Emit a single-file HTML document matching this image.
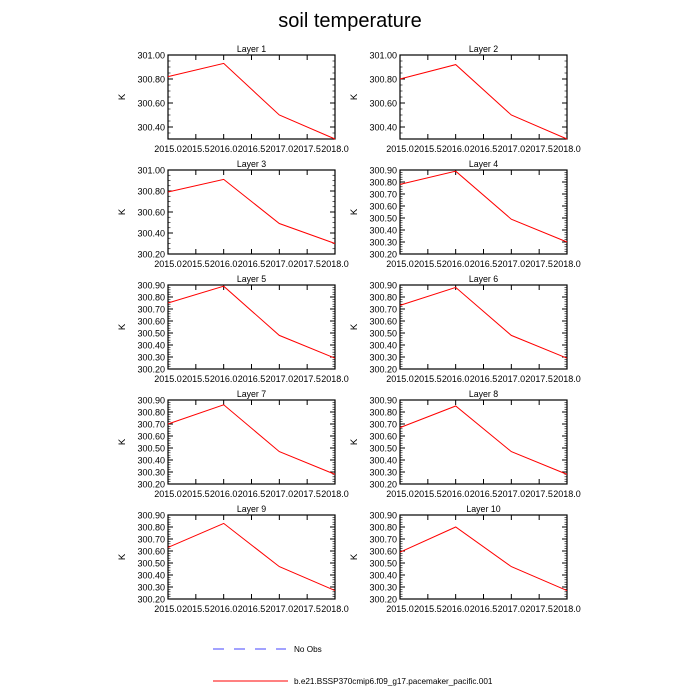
<!DOCTYPE html>
<html><head><meta charset="utf-8"><style>
body{margin:0;background:#fff;}
svg{display:block;font-family:"Liberation Sans",sans-serif;}
</style></head><body>
<svg id="chart" width="700" height="700" viewBox="0 0 700 700">
<text x="350" y="27" text-anchor="middle" font-size="20">soil temperature</text>
<g>
<line x1="213" y1="649" x2="286" y2="649" stroke="#4444ff" stroke-width="1" stroke-dasharray="11,10"/>
<text x="294" y="652" font-size="8.2">No Obs</text>
<line x1="213" y1="681" x2="288" y2="681" stroke="#ff0000" stroke-width="1"/>
<text x="294" y="684" font-size="8.2">b.e21.BSSP370cmip6.f09_g17.pacemaker_pacific.001</text>
</g>
</svg>
<script>
const years=[2015,2016,2017,2018];
const xTicks=["2015.0","2015.5","2016.0","2016.5","2017.0","2017.5","2018.0"];
const layerNames=["Layer 1","Layer 2","Layer 3","Layer 4","Layer 5","Layer 6","Layer 7","Layer 8","Layer 9","Layer 10"];
const L1=[300.82,300.93,300.50,300.30];
const L2=[300.80,300.92,300.50,300.30];
const L3=[300.79,300.91,300.49,300.30];
const L4=[300.78,300.89,300.49,300.30];
const L5=[300.75,300.89,300.48,300.29];
const L6=[300.73,300.88,300.48,300.29];
const L7=[300.70,300.86,300.47,300.28];
const L8=[300.67,300.85,300.47,300.28];
const L9=[300.63,300.83,300.47,300.27];
const L10=[300.59,300.80,300.47,300.27];
const series=[L1,L2,L3,L4,L5,L6,L7,L8,L9,L10];
const yMins=[300.3,300.3,300.2,300.2,300.2,300.2,300.2,300.2,300.2,300.2];
const yMaxs=[301.0,301.0,301.0,300.9,300.9,300.9,300.9,300.9,300.9,300.9];
const yTicks1=["300.40","300.60","300.80","301.00"];
const yTicks3=["300.20","300.40","300.60","300.80","301.00"];
const yTicks4=["300.20","300.30","300.40","300.50","300.60","300.70","300.80","300.90"];
const yTickSets=[yTicks1,yTicks1,yTicks3,yTicks4,yTicks4,yTicks4,yTicks4,yTicks4,yTicks4,yTicks4];
const NS="http://www.w3.org/2000/svg";
const svg=document.getElementById('chart');
function mk(t,a,p){const e=document.createElementNS(NS,t);for(const k in a)e.setAttribute(k,a[k]);(p||svg).appendChild(e);return e;}
const W=167,H=84;
for(let i=0;i<10;i++){
  const col=i%2,row=Math.floor(i/2);
  const x0=col?400:168, y0=55+row*115;
  const g=mk('g',{});
  
  
  const xs=v=>x0+(v-2015)/3*W;
  const ys=v=>y0+H-(v-yMins[i])/(yMaxs[i]-yMins[i])*H;
  const t=mk('text',{x:x0+W/2,y:y0-3,'text-anchor':'middle','font-size':'8.8'},g);t.textContent=layerNames[i];
  
  const yl=mk('text',{x:0,y:0,'text-anchor':'middle','font-size':'9.5',transform:`translate(${x0-43},${y0+H/2}) rotate(-90)`},g);yl.textContent='K';
  
  xTicks.forEach(s=>{const v=parseFloat(s),x=xs(v);
    mk('line',{x1:x,y1:y0+H,x2:x,y2:y0+H-5,stroke:'#000','stroke-width':1},g);
    mk('line',{x1:x,y1:y0,x2:x,y2:y0+5,stroke:'#000','stroke-width':1},g);
    const tt=mk('text',{x:x,y:y0+H+13,'text-anchor':'middle','font-size':'9'},g);tt.textContent=s;
    
  });
  const step=parseFloat(yTickSets[i][1])-parseFloat(yTickSets[i][0]);
  const minor=step/(step>0.15?4:5);
  for(let v=yMins[i];v<=yMaxs[i]+1e-6;v+=minor){const y=ys(v);
    mk('line',{x1:x0,y1:y,x2:x0+2.5,y2:y,stroke:'#000','stroke-width':0.6},g);
    mk('line',{x1:x0+W,y1:y,x2:x0+W-2.5,y2:y,stroke:'#000','stroke-width':0.6},g);}
  yTickSets[i].forEach(s=>{const y=ys(parseFloat(s));
    mk('line',{x1:x0,y1:y,x2:x0+5,y2:y,stroke:'#000','stroke-width':1},g);
    mk('line',{x1:x0+W,y1:y,x2:x0+W-5,y2:y,stroke:'#000','stroke-width':1},g);
    const tt=mk('text',{x:x0-3,y:y+3.3,'text-anchor':'end','font-size':'9'},g);tt.textContent=s;
    
  });
  const fr=mk('rect',{x:x0,y:y0,width:W,height:H,fill:'none',stroke:'#000','stroke-width':1.2},g);
  
  const pts=series[i].map((v,j)=>xs(years[j]).toFixed(1)+','+ys(v).toFixed(1)).join(' ');
  const pl=mk('polyline',{points:pts,fill:'none',stroke:'#ff0000','stroke-width':1},g);
  
}
</script>
</body></html>
